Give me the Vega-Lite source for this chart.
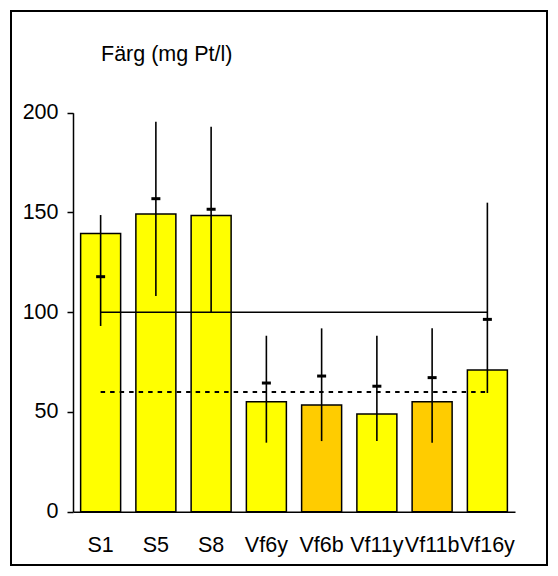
{
  "$schema": "https://vega.github.io/schema/vega-lite/v6.json",
  "width": 536,
  "height": 554,
  "autosize": {"type": "none"},
  "padding": {"left": 11, "top": 11, "right": 11, "bottom": 11},
  "background": "white",
  "config": {
    "view": {"stroke": "black", "strokeWidth": 2, "fill": "white"},
    "font": "Liberation Sans"
  },
  "title": {
    "text": "Färg (mg Pt/l)",
    "anchor": "start",
    "frame": "group",
    "offset": -71,
    "dx": 90,
    "baseline": "alphabetic",
    "fontSize": 21.5,
    "fontWeight": "normal",
    "font": "Liberation Sans",
    "color": "black"
  },
  "datasets": {
    "bars": [
      {"site": "S1", "value": 139.5, "low": 93.1, "high": 148.7, "median": 117.8, "colour": "gul"},
      {"site": "S5", "value": 149.2, "low": 108.1, "high": 195.5, "median": 156.9, "colour": "gul"},
      {"site": "S8", "value": 148.5, "low": 100.0, "high": 193.0, "median": 151.6, "colour": "gul"},
      {"site": "Vf6y", "value": 55.1, "low": 34.6, "high": 88.2, "median": 64.5, "colour": "gul"},
      {"site": "Vf6b", "value": 53.5, "low": 35.4, "high": 91.9, "median": 68.0, "colour": "orange"},
      {"site": "Vf11y", "value": 49.0, "low": 35.4, "high": 88.2, "median": 62.9, "colour": "gul"},
      {"site": "Vf11b", "value": 55.1, "low": 34.6, "high": 91.9, "median": 67.2, "colour": "orange"},
      {"site": "Vf16y", "value": 71.0, "low": 59.5, "high": 154.9, "median": 96.4, "colour": "gul"}
    ],
    "lines": [
      {"from": "S1", "to": "Vf16y", "level": 100, "kind": "solid"},
      {"from": "S1", "to": "Vf16y", "level": 60, "kind": "dashed"}
    ]
  },
  "layer": [
    {
      "data": {"name": "bars"},
      "mark": {"type": "bar", "stroke": "black", "strokeWidth": 1.5},
      "encoding": {
        "x": {
          "field": "site",
          "type": "nominal",
          "sort": null,
          "scale": {
            "domain": ["S1", "S5", "S8", "Vf6y", "Vf6b", "Vf11y", "Vf11b", "Vf16y"],
            "range": [62, 504],
            "paddingInner": 0.276,
            "paddingOuter": 0.138
          },
          "axis": {
            "orient": "bottom",
            "offset": -53.3,
            "title": null,
            "ticks": false,
            "domainColor": "black",
            "domainWidth": 1.5,
            "labelAngle": 0,
            "labelFontSize": 21.5,
            "labelFont": "Liberation Sans",
            "labelColor": "black",
            "labelPadding": 23,
            "labelOverlap": false,
            "labelBound": false,
            "labelFlush": false
          }
        },
        "y": {
          "field": "value",
          "type": "quantitative",
          "scale": {"domain": [0, 200], "range": [500.7, 101.7], "nice": false, "zero": true},
          "axis": {
            "orient": "left",
            "offset": -62,
            "values": [0, 50, 100, 150, 200],
            "grid": false,
            "title": null,
            "domainColor": "black",
            "domainWidth": 1.5,
            "tickColor": "black",
            "tickWidth": 1.5,
            "tickSize": 6,
            "labelFontSize": 21.5,
            "labelFont": "Liberation Sans",
            "labelColor": "black",
            "labelPadding": 9
          }
        },
        "fill": {
          "field": "colour",
          "type": "nominal",
          "scale": {"domain": ["gul", "orange"], "range": ["#FFFF00", "#FFCC00"]},
          "legend": null
        }
      }
    },
    {
      "data": {"name": "bars"},
      "mark": {"type": "rule", "color": "black", "strokeWidth": 1.6},
      "encoding": {
        "x": {"field": "site", "type": "nominal", "sort": null},
        "y": {"field": "low", "type": "quantitative"},
        "y2": {"field": "high"}
      }
    },
    {
      "data": {"name": "bars"},
      "mark": {"type": "tick", "color": "black", "size": 9, "thickness": 3, "opacity": 1},
      "encoding": {
        "x": {"field": "site", "type": "nominal", "sort": null},
        "y": {"field": "median", "type": "quantitative"}
      }
    },
    {
      "data": {"name": "lines"},
      "transform": [{"filter": "datum.kind === 'solid'"}],
      "mark": {"type": "rule", "color": "black", "strokeWidth": 1.5},
      "encoding": {
        "x": {"field": "from", "type": "nominal"},
        "x2": {"field": "to"},
        "y": {"field": "level", "type": "quantitative"}
      }
    },
    {
      "data": {"name": "lines"},
      "transform": [{"filter": "datum.kind === 'dashed'"}],
      "mark": {"type": "rule", "color": "black", "strokeWidth": 2, "strokeDash": [4.5, 5]},
      "encoding": {
        "x": {"field": "from", "type": "nominal"},
        "x2": {"field": "to"},
        "y": {"field": "level", "type": "quantitative"}
      }
    }
  ]
}
